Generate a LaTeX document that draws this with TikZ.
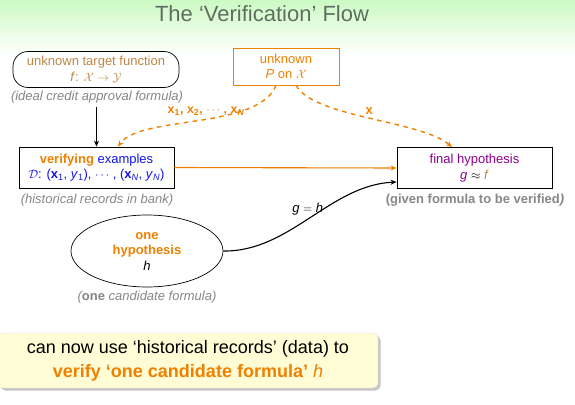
\documentclass[tikz,border=0pt]{standalone}
\usepackage{fontspec}
\setmainfont{Liberation Sans}
\usetikzlibrary{arrows.meta,shadows,positioning,shapes.geometric}
\definecolor{titlegray}{RGB}{95,110,95}
\definecolor{bggreen}{RGB}{204,250,196}
\definecolor{orng}{RGB}{240,128,0}
\definecolor{tan}{RGB}{190,135,70}
\definecolor{blu}{RGB}{20,20,235}
\definecolor{purp}{RGB}{140,0,140}
\definecolor{capgray}{RGB}{135,135,135}
\definecolor{notefill}{RGB}{255,252,214}
\tikzset{
  body/.style={font=\fontsize{13}{15.5}\selectfont, align=center},
  caption/.style={font=\fontsize{13}{15}\selectfont\itshape, text=capgray, inner sep=0.5pt},
  boxed/.style={body, draw, line width=0.8pt},
  dasharrow/.style={draw=orng, line width=1.4pt, dash pattern=on 4.5pt off 4.5pt, -{Stealth[length=6pt,width=5pt]}},
  solidarrow/.style={line width=1.1pt, -{Stealth[length=6pt,width=5pt]}},
  lbl/.style={font=\fontsize{13}{15}\selectfont},
}
\newcommand{\bx}{\textbf{x}}
\begin{document}
\begin{tikzpicture}[x=1pt,y=-1pt]
  % page and header band
  \useasboundingbox (0,0) rectangle (575,404);
  \fill[white] (0,0) rectangle (575,404);
  \shade[top color=bggreen, bottom color=white] (0,0) rectangle (575,55);
  \node[font=\fontsize{22}{24}\selectfont, text=titlegray] (title) at (262,14) {The ‘Verification’ Flow};

  % target function
  \node[boxed, rounded corners=15pt, minimum width=166pt, minimum height=36pt, text=tan, line width=0.7pt, inner sep=1pt]
    (target) at (96,69.5) {unknown target function\\ \textit{f}: $\mathcal{X}\to\mathcal{Y}$};
  \node[caption] (targetcap) at (97,97.5) {(ideal credit approval formula)};

  % input distribution
  \node[boxed, draw=orng, text=orng, minimum width=106pt, minimum height=37pt, inner sep=1pt]
    (dist) at (286,66.5) {unknown\\ \textit{P} on $\mathcal{X}$};

  % verifying examples
  \node[boxed, minimum width=155pt, minimum height=41pt, inner sep=1pt]
    (data) at (96.5,167.5) {\textcolor{orng}{\textbf{verifying}} \textcolor{blu}{examples}\\
      \textcolor{blu}{$\mathcal{D}$: (\bx\textsubscript{1}, \textit{y}\textsubscript{1}), $\cdots$ , (\bx\textsubscript{\textit{N}}, \textit{y}\textsubscript{\textit{N}})}};
  \node[caption] (datacap) at (97,200) {(historical records in bank)};

  % final hypothesis
  \node[boxed, minimum width=155pt, minimum height=41pt, inner sep=1pt]
    (final) at (474.5,168) {\textcolor{purp}{final hypothesis}\\ \textcolor{purp}{\textit{g}} $\approx$ \textcolor{tan}{\textit{f}}};
  \node[caption, font=\fontsize{13}{15}\selectfont\bfseries] (finalcap) at (475,200) {(given formula to be verified\textit{)}};

  % one hypothesis
  \node[body, draw, ellipse, minimum width=152pt, minimum height=72pt, line width=0.7pt, inner sep=0pt]
    (hyp) at (147,251) {\textcolor{orng}{\textbf{one}}\\ \textcolor{orng}{\textbf{hypothesis}}\\ \textit{h}};
  \node[caption] (hypcap) at (147,297) {(\textbf{\upshape one} candidate formula)};

  % connectors
  \draw[solidarrow] (targetcap.south -| data.north) ++(0,3) coordinate (tstart)
    (tstart) -- (data.north);
  \draw[dasharrow] ([xshift=-10pt]dist.south) .. controls (258,130) and (140,115) .. ([xshift=21.5pt]data.north)
    node[pos=0.25, anchor=east, xshift=-1pt, yshift=-2pt, inner sep=0.5pt, text=orng, font=\fontsize{12.5}{15}\selectfont\bfseries]
      {\bx\textsubscript{1}, \bx\textsubscript{2}, $\cdots$ , \bx\textsubscript{\textit{N}}};
  \draw[dasharrow] ([xshift=10pt]dist.south) .. controls (315,118) and (420,120) .. ([xshift=-22.5pt]final.north)
    node[pos=0.5, above, text=orng, lbl, font=\fontsize{13}{15}\selectfont\bfseries] {x};
  \draw[solidarrow, draw=orng] (data.east) -- (final.west);
  \draw[solidarrow] (hyp.east) .. controls (290,252) and (330,185) .. ([yshift=-14pt]final.west)
    node[pos=0.55, anchor=east, xshift=9pt, yshift=4pt, lbl] {\textit{g} $=$ \textit{h}};

  % take-away note
  \node[body, font=\fontsize{18}{24}\selectfont, fill=notefill, draw=black!12, rounded corners=5pt,
        drop shadow={shadow xshift=2.5pt, shadow yshift=-2.5pt, opacity=0.45},
        minimum width=380pt, minimum height=55pt, inner sep=2pt]
    (note) at (188,360.5) {can now use ‘historical records’ (data) to\\
      \textcolor{orng}{\textbf{verify ‘one candidate formula’} \textit{h}}};
\end{tikzpicture}
\end{document}
